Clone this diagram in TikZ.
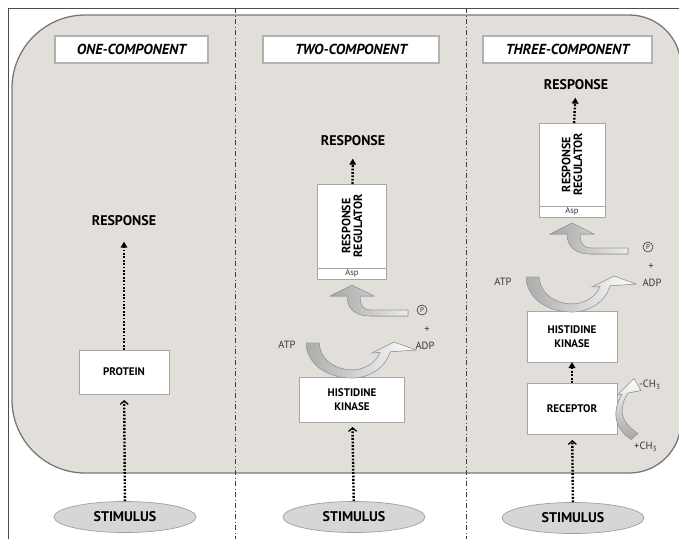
\documentclass[tikz,border=0pt]{standalone}
\usepackage{fontspec}
\setmainfont{PT Sans}
\usetikzlibrary{positioning,arrows.meta,shapes.geometric}

\definecolor{cellgray}{RGB}{226,223,219}
\definecolor{rimgray}{RGB}{120,120,120}
\definecolor{stimgray}{RGB}{214,214,214}
\definecolor{inkgray}{RGB}{55,55,55}

\tikzset{
  % ATP -> ADP ribbon, origin on top of the kinase
  atpturn/.pic={
    \filldraw[draw=gray!75,line width=.6pt,left color=gray!65,right color=white]
      (-46,-34) -- (-33,-34) .. controls (-31,-14) and (-13,-7) .. (0,-7)
      .. controls (12,-7) and (24,-14) .. (28,-24.5)
      -- (20,-24) -- (42,-35) -- (64,-27) -- (38,-25.2)
      .. controls (33,-8) and (16,1) .. (0,1)
      .. controls (-24,1) and (-45,-12) .. (-46,-34) -- cycle;
  },
  % phosphoryl transfer onto Asp, origin below the regulator
  phosphoflow/.pic={
    \filldraw[draw=gray!75,line width=.6pt,left color=gray!70,right color=gray!15]
      (0,6) -- (22,17) -- (8,17) .. controls (8,26) and (11,31) .. (19,31)
      -- (56,31) -- (56,37) -- (18,37) .. controls (3,37) and (-5,29) .. (-5,17)
      -- (-22,17) -- cycle;
  },
  % methylation ribbon beside the receptor
  methylturn/.pic={
    \filldraw[draw=gray!75,line width=.6pt,top color=white,bottom color=gray!70]
      (14,31) .. controls (2,23) and (-2,12) .. (-1,3)
      .. controls (-.5,-4) and (2,-9) .. (5,-14)
      -- (1,-14) -- (17,-30) -- (24,-18) -- (11,-15.5)
      .. controls (7,-10) and (5,-4) .. (5,3)
      .. controls (5,11) and (12,19) .. (21,25) -- cycle;
  }
}

\begin{document}
\begin{tikzpicture}[x=1pt,y=-1pt,
    titlebox/.style={draw=gray!60,line width=1.8pt,fill=white,inner sep=0pt,
      minimum height=27pt,font=\bfseries\itshape\fontsize{14.5}{14.5}\selectfont},
    box/.style={draw=gray!70,line width=.8pt,fill=white,inner sep=0pt,outer sep=0pt,
      align=center,font=\bfseries\fontsize{11}{14}\selectfont},
    aspbox/.style={box,minimum height=11pt,font=\fontsize{8.5}{8.5}\selectfont\color{inkgray}},
    stim/.style={ellipse,draw=gray!75,fill=stimgray,line width=.7pt,inner sep=0pt,
      minimum width=142pt,minimum height=31pt,font=\bfseries\fontsize{14}{14}\selectfont},
    resp/.style={font=\bfseries\fontsize{14}{14}\selectfont},
    chem/.style={font=\fontsize{10.5}{12}\selectfont,text=inkgray,inner sep=0pt},
    phos/.style={circle,draw=inkgray,line width=.6pt,inner sep=0pt,minimum size=10pt,
      font=\fontsize{7}{7}\selectfont,text=inkgray},
    resparrow/.style={line width=2.4pt,dash pattern=on 1.8pt off 1.6pt,
      -{Triangle[length=6pt,width=6.5pt]}},
    stimarrow/.style={line width=2.4pt,dash pattern=on 1.8pt off 1.6pt,
      -{Straight Barb[length=3.5pt,width=8pt,line width=1.3pt]}},
    sepline/.style={black!75,line width=1pt,dash pattern=on 5pt off 2.5pt on 1pt off 2.5pt}]
    \useasboundingbox (0,0) rectangle (679,539);

    % frame and cell
    \draw[black!70,line width=1pt] (679,8) -- (8,8) -- (8,539);
    \draw[rimgray,fill=cellgray,line width=1.3pt]
      (12,88) .. controls (12,48) and (45,15) .. (85,15) -- (629,15)
      .. controls (658,15) and (681,38) .. (681,67) -- (681,421)
      .. controls (681,450) and (658,473) .. (629,473) -- (85,473)
      .. controls (45,473) and (12,440) .. (12,400) -- cycle;

    \draw[sepline] (235,8) -- (235,539);
    \draw[sepline] (466,8) -- (466,539);

    \node[titlebox,minimum width=153pt] (t1) at (131.5,49.5) {ONE-COMPONENT};
    \node[titlebox,minimum width=176pt] (t2) at (351,49.5) {TWO-COMPONENT};
    \node[titlebox,minimum width=169pt] (t3) at (567.5,49.5) {THREE-COMPONENT};

    % one component
    \node[resp] (resp1) at (124,221) {RESPONSE};
    \node[box,minimum width=90pt,minimum height=44pt] (prot) at (124,372) {PROTEIN};
    \node[stim] (stim1) at (125,517) {STIMULUS};

    % two component
    \node[resp] (resp2) at (353,141) {RESPONSE};
    \node[box,minimum width=69pt,minimum height=84pt,font=\bfseries\fontsize{12}{14}\selectfont] (rr2) at (352,226)
      {\rotatebox{90}{\shortstack{RESPONSE\\REGULATOR}}};
    \node[aspbox,minimum width=69pt,below=0pt of rr2] (asp2) {Asp};
    \node[box,minimum width=105pt,minimum height=45pt] (hk2) at (352,399.5) {HISTIDINE\\KINASE};
    \node[stim] (stim2) at (354,517) {STIMULUS};
    \node[chem] (atp2) at (287,345) {ATP};
    \node[chem] (adp2) at (425,346) {ADP};
    \node[chem] (plus2) at (427,330) {+};
    \node[phos] (p2) at (422,310) {P};
    \pic at (hk2.north) {atpturn};
    \pic at (asp2.south) {phosphoflow};

    % three component
    \node[resp] (resp3) at (576,85) {RESPONSE};
    \node[box,minimum width=66pt,minimum height=83pt,font=\bfseries\fontsize{12}{14}\selectfont] (rr3) at (572,164.5)
      {\rotatebox{90}{\shortstack{RESPONSE\\REGULATOR}}};
    \node[aspbox,minimum width=66pt,below=0pt of rr3] (asp3) {Asp};
    \node[box,minimum width=90pt,minimum height=51pt] (hk3) at (572,336.5) {HISTIDINE\\KINASE};
    \node[box,minimum width=90pt,minimum height=51pt] (rec) at (572,408.5) {RECEPTOR};
    \node[stim] (stim3) at (573,518) {STIMULUS};
    \node[chem] (atp3) at (503,282) {ATP};
    \node[chem] (adp3) at (652,283) {ADP};
    \node[chem] (plus3) at (651,267) {+};
    \node[phos] (p3) at (648,247) {P};
    \node[chem,anchor=west] (mout) at (639,385) {-CH\textsubscript{3}};
    \node[chem,anchor=west] (min) at (634,447) {+CH\textsubscript{3}};
    \pic at (hk3.north) {atpturn};
    \pic at (asp3.south) {phosphoflow};
    \pic at (rec.east) {methylturn};

    \path
    (stim1) edge[stimarrow,shorten >=6pt] (prot)
    (prot)  edge[resparrow,shorten >=12pt] (resp1)
    (stim2) edge[stimarrow,shorten >=5pt] (hk2)
    (rr2)   edge[resparrow,shorten >=9pt] (resp2)
    (stim3) edge[stimarrow,shorten >=6pt] (rec)
    (rec)   edge[resparrow] (hk3)
    (rr3)   edge[resparrow,shorten >=4pt] (resp3)
    ;
\end{tikzpicture}
\end{document}
